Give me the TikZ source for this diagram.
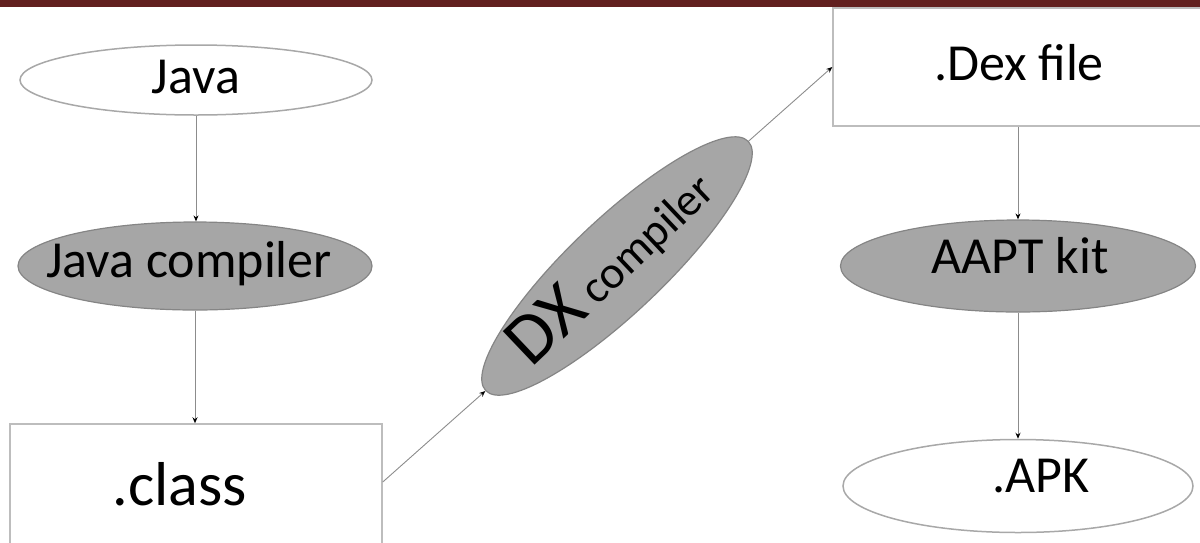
\documentclass[tikz,border=0pt]{standalone}
\usepackage{fontspec}
\setmainfont{Carlito}
\usepackage{tikz}
\usetikzlibrary{shapes.geometric, arrows.meta, positioning}
\definecolor{BarRed}{HTML}{62201F}
\definecolor{OvalGray}{HTML}{A6A6A6}
\definecolor{OvalEdge}{HTML}{858585}
\definecolor{LightEdge}{HTML}{A8A8A8}
\definecolor{BoxEdge}{HTML}{BDBDBD}
\definecolor{FlowLine}{HTML}{8C8C8C}
\tikzset{
    txt/.style={font=\fontsize{52}{60}\selectfont, text=black, inner sep=0pt,
                text height=36pt, text depth=10pt},
    bigtxt/.style={txt, font=\fontsize{62}{70}\selectfont,
                text height=43pt, text depth=12pt},
    whiteoval/.style={ellipse, draw=LightEdge, line width=1.5pt, fill=white, inner sep=0pt},
    grayoval/.style={ellipse, draw=OvalEdge, line width=1.2pt, fill=OvalGray, inner sep=0pt},
    filebox/.style={rectangle, draw=BoxEdge, line width=1.5pt, fill=white, inner sep=0pt},
    flow/.style={draw=FlowLine, line width=0.9pt, -{Stealth[length=6pt, width=5pt, black]}}
}

\begin{document}
\begin{tikzpicture}[x=1pt, y=-1pt]
    \useasboundingbox (0,0) rectangle (1200,542);
    \fill[BarRed] (0,0) rectangle (1200,6.5);

    % left column
    \node[whiteoval, minimum width=352, minimum height=70,
          label={[txt]center:Java}] (java) at (196,80) {};
    \node[grayoval, minimum width=354, minimum height=88,
          label={[txt, xshift=-6, yshift=2]center:Java compiler}] (jcomp) at (195,266) {};
    \node[filebox, minimum width=372, minimum height=140,
          label={[bigtxt, xshift=-16, yshift=4]center:.class}] (class) at (196,494) {};

    % middle
    \node[grayoval, minimum width=362, minimum height=94, rotate=43.5,
          label={[txt, rotate=43.5, font=\fontsize{46}{54}\selectfont,
                  text height=32pt, text depth=10pt, xshift=-5, yshift=-5]center:{\fontsize{72}{80}\selectfont DX} compiler}] (dx) at (617,266) {};

    % right column
    \node[filebox, minimum width=380, minimum height=118,
          label={[txt, xshift=-4]center:.Dex file}] (dex) at (1023,67) {};
    \node[grayoval, minimum width=355, minimum height=92,
          label={[txt, xshift=2, yshift=6]center:AAPT kit}] (aapt) at (1018,266) {};
    \node[whiteoval, minimum width=350, minimum height=93,
          label={[txt, xshift=23, yshift=7]center:.APK}] (apk) at (1018,486) {};

    % connectors
    \draw[flow] (java.south) -- (java.south |- jcomp.north);
    \draw[flow] (jcomp.south) -- (jcomp.south |- class.north);
    \draw[flow] ([yshift=12pt]class.east) -- (dx.west);
    \draw[flow] (dx.east) -- (dex.west);
    \draw[flow] (dex.south -| aapt.north) -- (aapt.north);
    \draw[flow] (aapt.south) -- (apk.north);
\end{tikzpicture}
\end{document}
